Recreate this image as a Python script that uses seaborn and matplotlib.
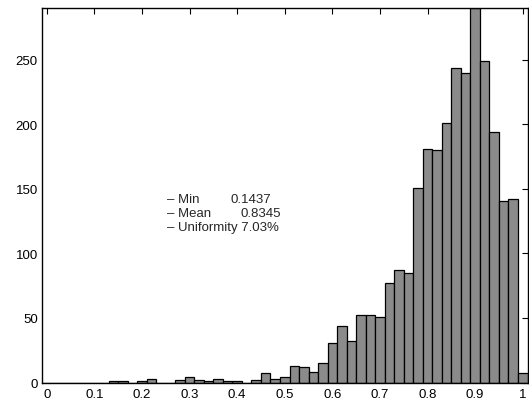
"""
Histogram of per-sample values with summary stats (MATLAB-style look).
"""

import matplotlib
matplotlib.use("Agg")
import matplotlib.pyplot as plt
import pandas as pd
import seaborn as sns

# Bin centres (width 0.02) and counts
bin_centers = [
    0.00, 0.02, 0.04, 0.06, 0.08, 0.10, 0.12, 0.14, 0.16, 0.18,
    0.20, 0.22, 0.24, 0.26, 0.28, 0.30, 0.32, 0.34, 0.36, 0.38,
    0.40, 0.42, 0.44, 0.46, 0.48, 0.50, 0.52, 0.54, 0.56, 0.58,
    0.60, 0.62, 0.64, 0.66, 0.68, 0.70, 0.72, 0.74, 0.76, 0.78,
    0.80, 0.82, 0.84, 0.86, 0.88, 0.90, 0.92, 0.94, 0.96, 0.98,
    1.00,
]
counts = [
    0, 0, 0, 0, 0, 0, 0, 1, 1, 0,
    1, 3, 0, 0, 2, 4, 2, 1, 3, 1,
    1, 0, 2, 7, 3, 4, 13, 12, 8, 15,
    31, 44, 32, 52, 52, 51, 77, 87, 85, 151,
    181, 180, 201, 244, 240, 290, 249, 194, 141, 142,
    7,
]

x_ticks = [0, 0.1, 0.2, 0.3, 0.4, 0.5, 0.6, 0.7, 0.8, 0.9, 1]
x_ticklabels = ["0", "0.1", "0.2", "0.3", "0.4", "0.5", "0.6", "0.7", "0.8", "0.9", "1"]
y_ticks = [0, 50, 100, 150, 200, 250]

stat_names = ["\u2013 Min", "\u2013 Mean", "\u2013 Uniformity"]
stat_values = ["0.1437", "0.8345", "7.03%"]

FS = 9.5

sns.set_style("white")
plt.rcParams["font.family"] = ["Liberation Sans", "DejaVu Sans"]

fig = plt.figure(figsize=(5.29, 4.02), dpi=100)
ax = fig.add_axes([0.0794, 0.046, 0.9178, 0.931])

df = pd.DataFrame({"value": bin_centers, "count": counts})
sns.histplot(
    data=df, x="value", weights="count",
    binwidth=0.02, binrange=(-0.01, 1.01), ax=ax,
    color="#8b8b8b", edgecolor="black", linewidth=0.9, alpha=1.0,
)

ax.set_xlim(-0.01, 1.01)
ax.set_ylim(0, 290)
ax.set_xticks(x_ticks)
ax.set_xticklabels(x_ticklabels)
ax.set_yticks(y_ticks)
ax.set_xlabel("")
ax.set_ylabel("")
ax.tick_params(direction="in", top=True, right=True, length=4, width=0.8,
               labelsize=FS, pad=3, colors="black")
ax.tick_params(axis="x", pad=4)
for sp in ax.spines.values():
    sp.set_visible(True)
    sp.set_color("black")
    sp.set_linewidth(1.0)

# summary text block: labels in one column, numbers placed after them
row_y = [142.5, 131.5, 120.3]
ax.text(0.252, row_y[0], stat_names[0], fontsize=FS, va="center")
ax.text(0.387, row_y[0], stat_values[0], fontsize=FS, va="center")
ax.text(0.252, row_y[1], stat_names[1], fontsize=FS, va="center")
ax.text(0.406, row_y[1], stat_values[1], fontsize=FS, va="center")
ax.text(0.252, row_y[2], f"{stat_names[2]} {stat_values[2]}", fontsize=FS, va="center")

fig.savefig("out.png", dpi=100)
plt.close(fig)
